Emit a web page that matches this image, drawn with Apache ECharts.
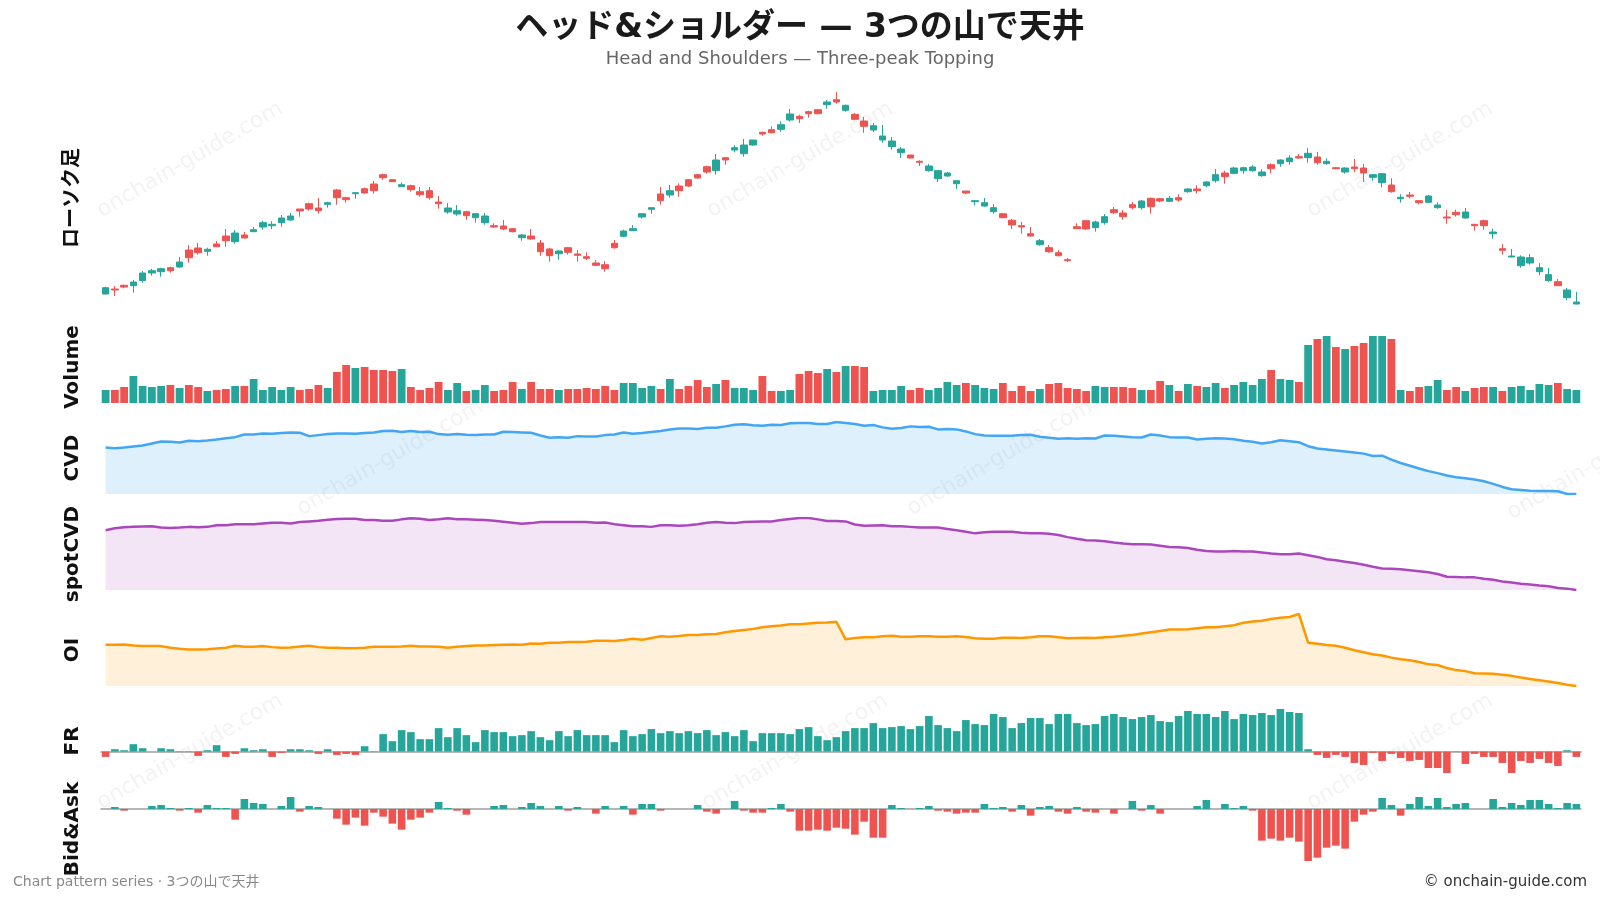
<!DOCTYPE html>
<html>
<head>
<meta charset="utf-8">
<title>ヘッド&ショルダー</title>
<script src="https://cdn.jsdelivr.net/npm/echarts@6.0.0/dist/echarts.min.js"></script>
<style>
    html, body { margin: 0; padding: 0; background: #fff; }
    #main { width: 1600px; height: 900px; }
</style>
</head>
<body>
<div id="main"></div>
<script>
// candles: [open, close, low, high]
var candles = [
    [26.0,32.3,25.7,33.3],[31.0,30.0,24.0,34.0],[34.7,33.0,31.7,35.3],[34.3,38.0,27.3,40.0],[39.3,47.0,37.3,49.0],
    [47.0,49.3,44.3,51.3],[48.3,51.3,43.3,52.3],[52.3,49.3,47.3,53.3],[53.0,58.0,52.3,63.0],[70.0,62.3,57.3,75.0],
    [72.0,67.3,65.3,77.0],[68.7,70.7,64.3,72.3],[76.0,73.3,73.0,79.0],[84.0,79.3,73.3,91.0],[78.3,87.0,76.3,90.0],
    [85.0,82.0,81.7,88.0],[88.3,90.3,88.0,93.0],[93.0,97.3,90.3,99.3],[94.3,95.7,91.0,98.7],[97.3,102.0,93.3,105.0],
    [100.0,104.0,99.3,107.0],[111.0,109.0,103.3,111.0],[116.3,111.0,109.3,117.3],[112.0,109.3,106.3,122.0],[115.7,117.3,112.3,118.3],
    [130.0,122.3,115.3,131.0],[122.3,120.3,117.3,123.3],[126.3,127.3,121.3,128.0],[131.3,127.0,126.3,132.3],[136.0,129.3,126.3,139.0],
    [145.3,142.3,140.3,146.3],[140.3,138.3,138.0,141.0],[133.3,135.3,133.0,137.7],[134.3,130.3,128.3,135.3],[128.3,125.3,123.3,133.0],
    [129.3,122.3,120.3,133.0],[118.0,116.3,111.3,124.0],[108.0,112.0,106.3,117.0],[106.0,109.3,104.3,115.0],[108.3,104.3,100.3,109.3],
    [102.3,106.3,97.3,107.0],[97.3,104.0,95.3,107.0],[94.3,93.0,92.3,96.7],[94.0,91.0,89.7,100.0],[91.3,88.3,87.7,91.7],
    [82.3,85.0,79.3,86.0],[84.0,81.0,80.3,91.0],[77.0,68.3,64.3,80.0],[71.0,64.3,58.3,72.3],[66.3,69.0,60.3,69.7],
    [72.3,67.7,65.3,73.0],[66.0,64.7,58.3,70.0],[63.3,61.7,60.0,67.7],[57.0,54.7,53.7,60.0],[55.3,51.3,48.3,59.0],
    [76.7,72.3,71.3,80.0],[83.7,89.0,82.7,90.3],[89.3,91.3,89.3,95.0],[103.0,106.3,101.3,106.3],[110.7,112.3,106.3,112.3],
    [126.0,119.3,115.3,133.0],[125.0,129.3,122.3,135.0],[134.0,129.3,123.3,136.7],[140.3,134.0,133.0,141.0],[145.3,142.0,141.3,146.0],
    [153.3,148.0,146.3,154.3],[149.3,160.0,145.3,166.0],[162.3,160.0,155.3,162.3],[170.0,172.3,167.7,174.7],[166.3,175.0,163.3,181.0],
    [175.0,180.0,174.3,180.0],[187.7,186.0,184.3,188.3],[190.3,187.3,186.7,193.7],[190.7,195.3,188.3,198.7],[200.0,206.0,198.3,211.0],
    [203.7,201.3,197.0,205.3],[208.3,206.3,202.3,209.3],[210.3,206.3,206.0,210.3],[215.3,218.0,211.3,220.0],[220.3,218.0,216.3,228.0],
    [209.7,214.7,208.3,215.3],[205.7,200.7,199.7,207.0],[199.0,193.7,187.3,203.0],[190.0,194.3,188.0,197.0],[180.0,184.0,177.3,195.0],
    [173.3,179.0,170.3,183.0],[167.3,171.0,162.0,173.0],[165.0,162.0,161.7,165.3],[158.7,157.7,154.0,159.7],[149.3,154.0,148.3,156.0],
    [141.3,149.3,138.0,149.3],[144.0,147.0,143.3,148.0],[136.3,139.3,131.0,139.3],[129.0,127.0,126.0,129.0],[118.3,119.3,114.7,120.0],
    [114.0,117.3,113.3,122.0],[108.3,112.3,106.3,116.0],[106.3,102.3,101.7,107.0],[99.7,95.0,91.0,101.0],[94.3,93.0,86.3,98.0],
    [86.3,84.0,83.3,93.0],[75.3,79.3,74.3,81.0],[72.3,68.3,67.3,75.0],[67.3,64.3,63.7,70.0],[60.3,59.3,58.0,62.0],
    [93.3,91.3,91.0,96.7],[99.3,91.0,90.3,99.3],[92.3,98.0,88.3,99.3],[97.3,103.3,95.3,106.0],[110.3,107.3,106.3,113.0],
    [107.0,103.3,100.3,110.0],[115.3,112.3,110.7,118.0],[112.3,119.0,110.3,120.0],[121.7,113.3,106.3,122.3],[121.3,119.0,117.7,122.0],
    [118.7,121.7,118.0,124.0],[122.3,120.0,118.3,125.7],[128.3,131.0,127.3,131.7],[131.0,129.3,126.3,134.7],[134.3,138.0,132.7,139.0],
    [139.3,145.3,137.3,151.0],[147.0,143.3,136.3,149.3],[146.7,152.0,145.7,153.3],[149.3,152.3,146.3,153.3],[149.3,153.0,148.3,155.0],
    [144.3,148.0,143.3,150.7],[155.3,151.3,147.0,156.7],[156.3,160.0,153.3,160.7],[158.3,162.0,155.3,164.7],[163.3,162.0,161.3,166.0],
    [162.3,166.7,157.3,171.7],[163.0,157.3,155.3,168.0],[156.3,158.7,155.3,161.7],[152.3,151.3,150.7,153.0],[148.0,152.0,146.3,152.7],
    [153.0,151.3,147.7,161.0],[152.0,147.0,138.0,156.0],[142.7,145.3,139.3,146.0],[137.3,146.3,132.7,147.0],[135.0,128.3,127.3,141.7],
    [121.3,122.7,117.3,125.7],[125.0,123.7,121.7,128.0],[119.3,117.3,115.7,119.7],[117.7,124.0,117.0,125.0],[112.3,115.0,111.3,117.7],
    [103.0,102.0,96.3,110.0],[107.7,105.3,103.3,110.3],[102.0,108.0,101.3,112.0],[95.7,94.3,89.3,95.7],[99.3,94.3,90.3,100.3],
    [86.3,88.0,81.3,91.3],[71.3,69.7,65.3,76.0],[63.0,64.0,62.7,71.0],[54.3,63.0,52.3,64.7],[57.0,62.3,55.3,66.0],
    [48.3,52.3,44.7,57.0],[39.3,45.3,38.3,52.0],[38.3,34.3,34.3,41.0],[22.3,30.0,19.7,32.0],[16.0,18.0,15.7,28.0]
];

var volume = [
    39,39,48,81,51,48,51,54,45,54, 48,36,39,42,51,51,72,39,48,39, 48,39,42,54,45,93,114,105,108,99,
    99,96,102,48,39,45,63,39,60,36, 39,54,36,39,63,42,63,42,42,39, 42,42,45,42,51,39,60,60,45,51,
    42,72,42,51,69,48,57,69,45,45, 39,81,36,36,39,87,96,90,102,93, 111,111,108,36,39,39,51,39,45,39,
    45,63,54,60,54,45,42,60,36,51, 36,42,57,60,45,42,36,51,48,48, 48,45,39,39,66,54,36,57,51,48,
    60,45,54,63,54,72,99,72,69,63, 174,192,201,168,162,171,180,201,201,192, 39,36,48,51,69,39,48,36,45,48,
    48,36,48,51,39,57,54,60,42,39
];

var cvd = [
    138,136,138,141,144,150,156,155,153,158, 157,159,162,166,169,177,177,180,179,181, 183,182,172,175,178,180,180,179,181,183,
    187,188,184,187,184,185,178,176,178,176, 175,177,177,185,184,183,182,174,167,169, 167,172,171,171,175,177,183,179,181,184,
    187,192,195,195,193,197,197,201,206,207, 204,203,206,205,210,211,211,208,208,214, 211,208,203,205,198,194,196,201,199,200,
    192,193,192,186,178,174,173,173,173,175, 176,170,167,164,166,164,166,165,174,173, 171,169,168,177,174,169,168,168,162,164,
    166,165,163,158,155,150,154,160,157,154, 142,135,132,129,126,123,120,113,114,102, 92,84,76,68,62,55,50,47,43,38,
    30,21,14,12,10,9,9,8,0,0
];

var spotCvd = [
    177,183,186,187,188,189,185,184,185,187, 186,187,192,192,195,195,195,197,199,199, 197,201,203,205,208,210,211,211,207,207,
    205,205,209,212,211,207,209,212,209,209, 208,207,205,202,199,196,198,201,201,201, 201,201,201,199,200,195,192,189,189,187,
    192,192,190,192,195,199,201,199,198,201, 202,203,203,207,210,213,213,209,204,204, 203,194,190,191,192,189,189,187,185,185,
    185,181,177,173,168,171,173,173,173,170, 168,168,167,163,157,152,148,147,145,141, 138,136,136,135,132,128,127,125,120,116,
    115,115,116,115,115,112,109,107,107,109, 104,99,92,89,85,81,76,70,65,64, 63,60,57,54,49,41,40,39,39,35,
    32,27,24,20,18,15,13,8,6,2
];

var oi = [
    122,122,123,120,118,118,118,113,110,108, 108,109,111,113,119,116,116,118,115,113, 114,117,119,115,113,113,112,112,113,116,
    116,116,117,119,117,117,116,113,116,118, 120,120,121,122,123,122,126,125,128,128, 130,130,131,134,134,133,136,140,137,142,
    147,146,148,151,151,153,154,159,163,166, 169,174,177,179,183,183,185,187,188,190, 138,142,144,144,147,149,146,146,147,147,
    146,146,147,145,141,140,140,143,143,142, 144,147,147,144,141,142,143,142,144,146, 149,151,155,159,163,167,167,168,171,174,
    174,177,180,187,191,193,198,202,204,213, 128,125,121,119,113,106,100,94,90,84, 79,76,71,64,62,53,47,44,38,37,
    36,33,30,25,21,17,13,9,4,0
];

var fr = [
    -16,7,4,22,10,0,10,7,-1,-1, -13,4,19,-16,-7,10,4,7,-16,-4, 7,7,4,-7,7,-10,-7,-10,16,-1,
    52,31,64,58,37,37,70,43,70,49, 28,64,58,58,46,49,61,43,34,61, 46,64,49,49,49,28,64,46,52,67,
    55,61,55,61,55,64,49,58,46,64, 31,55,55,55,52,67,73,46,34,43, 61,70,70,85,70,73,76,67,76,106,
    79,70,61,94,82,79,112,103,70,85, 100,100,82,112,112,85,79,82,106,112, 103,97,103,109,91,88,106,121,112,112,
    103,121,97,112,109,115,109,127,118,115, 7,-10,-19,-10,-16,-34,-40,-4,-28,-7, -19,-28,-25,-49,-49,-64,-1,-37,-7,-16,
    -16,-34,-64,-28,-34,-22,-34,-43,4,-16
];

var bidAsk = [
    0,6,-5,0,0,9,12,3,-5,3, -11,12,3,3,-32,30,18,15,0,9, 36,-8,9,6,0,-29,-47,-26,-50,-11,
    -23,-44,-62,-32,-26,-11,21,3,-5,-17, 0,0,9,12,0,6,18,9,0,9, -5,6,0,-14,9,0,9,-17,15,15,
    -5,0,0,0,12,-8,-14,0,24,-5, -11,-11,3,15,-8,-65,-65,-62,-65,-56, -59,-77,-38,-86,-86,12,3,0,3,9,
    -5,-8,-14,-11,-11,15,3,6,-8,12, -20,6,9,-8,-14,6,-8,-11,0,-14, 0,24,-5,12,-14,0,0,0,9,27,
    0,15,3,9,-5,-95,-89,-95,-86,-98, -156,-146,-116,-110,-119,-38,-17,-8,33,12, -20,15,36,9,33,6,15,18,0,0,
    30,6,18,12,27,27,15,3,18,15
];

var panelNames = ['ローソク足', 'Volume', 'CVD', 'spotCVD', 'OI', 'FR', 'Bid&Ask'];

var days = candles.map(function (c, i) { return i + 1; });

var UP = '#26a69a', DOWN = '#ef5350';
var FONT = '"DejaVu Sans", "Noto Sans CJK JP", sans-serif';

(function () {
    var main = document.getElementById('main');
    var myChart = echarts.init(main, null, { renderer: 'canvas' });

    // panel layout (top, height) in px
    var panels = [[90, 216], [331, 72], [422, 72], [518, 72], [614, 72], [709, 64], [797, 64]];

    var grids = panels.map(function (p) {
        return { left: 101, width: 1480, top: p[0], height: p[1] };
    });

    var xAxes = panels.map(function (p, i) {
        var zeroLine = (i === 5 || i === 6);
        return {
            type: 'category',
            gridIndex: i,
            data: days,
            boundaryGap: true,
            axisLine: { show: zeroLine, onZero: true, lineStyle: { color: '#9e9e9e', width: 1.5 } },
            axisTick: { show: false },
            axisLabel: { show: false },
            splitLine: { show: false }
        };
    });

    var yAxes = panels.map(function (p, i) {
        var ax = {
            type: 'value',
            gridIndex: i,
            name: panelNames[i],
            nameLocation: 'middle',
            nameRotate: 90,
            nameGap: 18,
            nameTextStyle: { fontSize: 20, fontWeight: 'bold', color: '#111', fontFamily: FONT },
            axisLine: { show: false },
            axisTick: { show: false },
            axisLabel: { show: false },
            splitLine: { show: false },
            min: 'dataMin',
            max: 'dataMax'
        };
        if (i === 0) { ax.min = 14; ax.max = 230; }
        if (i === 1) { ax.min = 0; ax.max = 216; }
        return ax;
    });

    function areaLine(name, idx, data, color, fill) {
        return {
            name: name,
            type: 'line',
            xAxisIndex: idx,
            yAxisIndex: idx,
            data: data,
            symbol: 'none',
            lineStyle: { color: color, width: 2.5 },
            areaStyle: { color: fill, origin: 'start' }
        };
    }

    function signBars(name, idx, data) {
        return {
            name: name,
            type: 'bar',
            xAxisIndex: idx,
            yAxisIndex: idx,
            data: data,
            barCategoryGap: '18%',
            itemStyle: {
                color: function (p) { return p.value >= 0 ? UP : DOWN; }
            }
        };
    }

    // watermark
    var marks = [];
    var wmPos = [[190, 160], [800, 160], [1400, 160], [390, 458], [1000, 458], [1600, 462], [190, 752], [795, 752], [1400, 752]];
    wmPos.forEach(function (w) {
        marks.push({
            type: 'text',
            x: w[0], y: w[1],
            rotation: Math.PI / 6,
            z: -10,
            silent: true,
            style: {
                text: 'onchain-guide.com',
                fill: 'rgba(0,0,0,0.05)',
                fontSize: 22,
                fontFamily: FONT,
                align: 'center',
                verticalAlign: 'middle'
            }
        });
    });

    var option = {
        backgroundColor: '#ffffff',
        animation: false,
        title: [
            {
                text: 'ヘッド&ショルダー — 3つの山で天井',
                left: 'center', top: 7,
                textStyle: { fontSize: 33, fontWeight: 'bold', color: '#1a1a1a', fontFamily: FONT }
            },
            {
                text: 'Head and Shoulders — Three-peak Topping',
                left: 'center', top: 45,
                textStyle: { fontSize: 18, fontWeight: 'normal', color: '#666', fontFamily: FONT }
            },
            {
                text: 'Chart pattern series · 3つの山で天井',
                left: 8, top: 870,
                textStyle: { fontSize: 14, fontWeight: 'normal', color: '#888', fontFamily: FONT }
            },
            {
                text: '© onchain-guide.com',
                right: 8, top: 870,
                textStyle: { fontSize: 15, fontWeight: 'normal', color: '#333', fontFamily: FONT }
            }
        ],
        graphic: marks,
        grid: grids,
        xAxis: xAxes,
        yAxis: yAxes,
        series: [
            {
                name: 'price',
                type: 'candlestick',
                xAxisIndex: 0,
                yAxisIndex: 0,
                data: candles,
                barWidth: 7,
                itemStyle: {
                    color: UP, color0: DOWN,
                    borderColor: UP, borderColor0: DOWN,
                    borderWidth: 1
                }
            },
            {
                name: 'Volume',
                type: 'bar',
                xAxisIndex: 1,
                yAxisIndex: 1,
                data: volume,
                barCategoryGap: '16%',
                itemStyle: {
                    color: function (p) {
                        var c = candles[p.dataIndex];
                        return c[1] >= c[0] ? UP : DOWN;
                    }
                }
            },
            areaLine('CVD', 2, cvd, '#42a5f5', 'rgba(66,165,245,0.24)'),
            areaLine('spotCVD', 3, spotCvd, '#ab47bc', 'rgba(171,71,188,0.2)'),
            areaLine('OI', 4, oi, '#ff9800', 'rgba(255,152,0,0.21)'),
            signBars('FR', 5, fr),
            signBars('Bid&Ask', 6, bidAsk)
        ]
    };

    myChart.setOption(option);
    window.onresize = function () {
        myChart.resize();
    };
})();
</script>
</body>
</html>
